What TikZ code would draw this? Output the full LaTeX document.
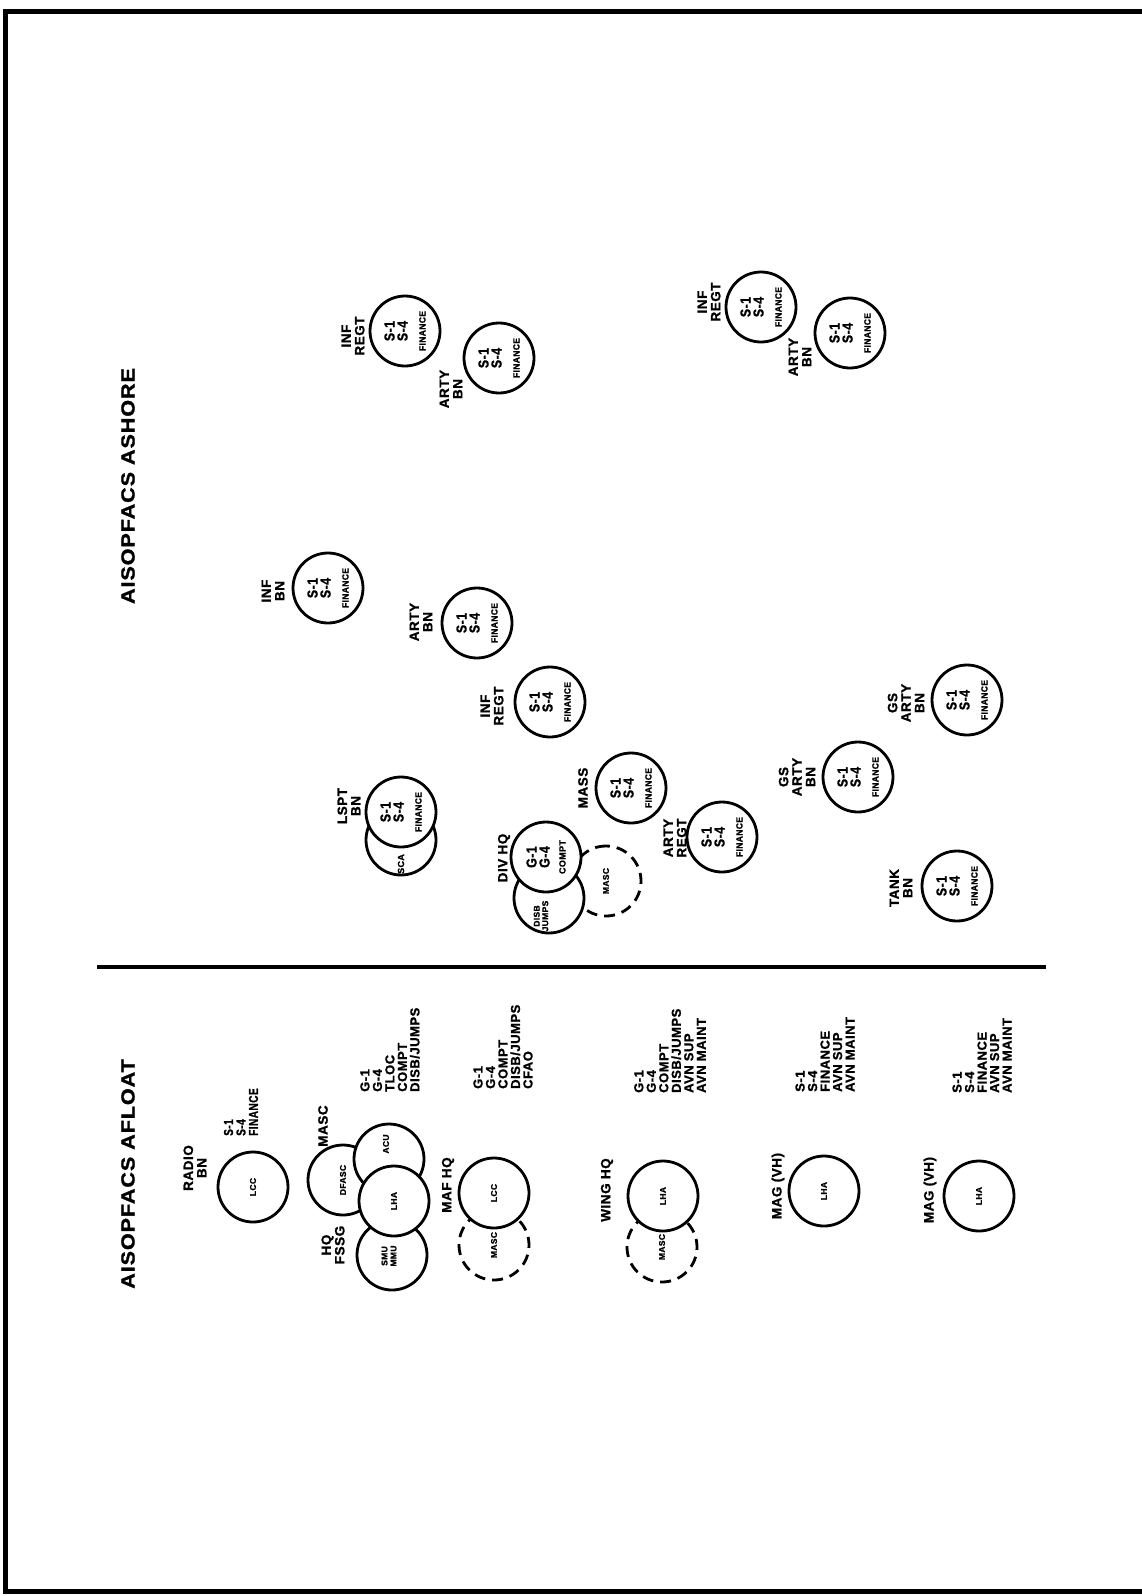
\documentclass[tikz,border=0pt]{standalone}
\usepackage{fontspec}
\setmainfont{Liberation Sans}[BoldFeatures={FakeBold=1.2}, LetterSpace=4]
\usepackage{graphicx}
\newcommand\ttlfont{\fontsize{19}{22}\selectfont\bfseries}
\newcommand\lblfont{\fontsize{13.5}{13.5}\selectfont\bfseries}
\newcommand\lstfont{\fontsize{13}{12.5}\selectfont\bfseries}
\newcommand\cfont{\fontsize{14.5}{13}\selectfont\bfseries}
\newcommand\ffont{\fontsize{9}{10}\selectfont\bfseries}
\newcommand\smfont{\fontsize{8.5}{9}\selectfont\bfseries}
% narrow set for short lists
\newcommand\cnd[1]{\scalebox{0.78}[1]{#1}}
% S-1 / S-4 / FINANCE block inside a unit circle
\newcommand\ssfin{\scalebox{0.85}[1]{S-1}\\\scalebox{0.85}[1]{S-4}\\[5pt]{\ffont\scalebox{0.95}[1]{FINANCE}}}
\tikzset{
  ring/.style={circle, draw, line width=2.8pt, fill=white, minimum size=70pt,
    inner sep=0pt, rotate=90, align=center, font=\cfont},
  ringsm/.style={ring, font=\smfont},
  dring/.style={circle, draw, line width=2.8pt, dash pattern=on 11pt off 7pt,
    minimum size=70pt, inner sep=0pt, rotate=90, font=\smfont},
  lbl/.style={rotate=90, align=center, font=\lblfont, inner sep=0pt},
  lst/.style={rotate=90, align=left, font=\lstfont, inner sep=0pt, anchor=west},
  ttl/.style={rotate=90, font=\ttlfont, inner sep=0pt},
  txt/.style={rotate=90, align=center, font=\smfont, inner sep=0pt},
}
\begin{document}
\begin{tikzpicture}[x=1pt,y=-1pt]
\useasboundingbox (0,0) rectangle (1142,1596);

% outer frame (open on the right) and the divider
\coordinate (fa) at (1142,11);
\coordinate (fb) at (5,11);
\coordinate (fc) at (5,1591);
\coordinate (fd) at (1142,1591);
\draw[line width=5pt, line join=miter] (fa) -- (fb) -- (fc) -- (fd);
\coordinate (da) at (97,967);
\coordinate (db) at (1046,967);
\draw[line width=4.5pt] (da) -- (db);

% section titles
\node[ttl] (ashore) at (128,486) {\scalebox{1.14}[1]{AISOPFACS ASHORE}};
\node[ttl] (afloat) at (128,1174) {\scalebox{1.14}[1]{AISOPFACS AFLOAT}};

% ---------------- ashore units ----------------
\node[ring] (ir1) at (405,331) {\ssfin};
\node[lbl] (ir1l) at (353,336) {INF\\REGT};
\node[ring] (ab1) at (499,358) {\ssfin};
\node[lbl] (ab1l) at (451,389) {ARTY\\BN};

\node[ring] (ir2) at (761,307) {\ssfin};
\node[lbl] (ir2l) at (709,302) {INF\\REGT};
\node[ring] (ab2) at (850,333) {\ssfin};
\node[lbl] (ab2l) at (800,357) {ARTY\\BN};

\node[ring] (ib) at (328,588) {\ssfin};
\node[lbl] (ibl) at (273,591) {INF\\BN};
\node[ring] (ab3) at (477,623) {\ssfin};
\node[lbl] (ab3l) at (421,622) {ARTY\\BN};
\node[ring] (ir3) at (550,702) {\ssfin};
\node[lbl] (ir3l) at (492,706) {INF\\REGT};
\node[ring] (mass) at (631,788) {\ssfin};
\node[lbl] (massl) at (583,788) {MASS};

% LSPT BN with SCA
\node[ring] (sca) at (401,840) {};
\node[txt, font=\fontsize{9}{9}\selectfont\bfseries] (scat) at (401,864) {SCA};
\node[ring] (lspt) at (401,812) {\ssfin};
\node[lbl] (lsptl) at (349,806) {LSPT\\BN};

% DIV HQ with DISB and MASC
\node[dring] (dmasc) at (606,881) {MASC};
\node[ring] (disb) at (549,898) {};
\node[txt, font=\fontsize{8.5}{8.5}\selectfont\bfseries] (disbt) at (541,916) {DISB\\JUMPS};
\node[ring] (divg) at (546,857) {\scalebox{0.85}[1]{G-1}\\\scalebox{0.85}[1]{G-4}\\[3pt]{\ffont COMPT}};
\node[lbl] (divl) at (504,858) {DIV HQ};

\node[ring] (areg) at (722,837) {\ssfin};
\node[lbl] (aregl) at (675,838) {ARTY\\REGT};
\node[ring] (gs1) at (858,777) {\ssfin};
\node[lbl] (gs1l) at (797,777) {GS\\ARTY\\BN};
\node[ring] (gs2) at (967,700) {\ssfin};
\node[lbl] (gs2l) at (906,703) {GS\\ARTY\\BN};
\node[ring] (tank) at (957,886) {\ssfin};
\node[lbl] (tankl) at (901,888) {TANK\\BN};

% ---------------- afloat units ----------------
\node[lbl] (radl) at (195,1168) {RADIO\\BN};
\node[ringsm] (radc) at (253,1187) {LCC};
\node[lst] (radt) at (241,1136) {\cnd{S-1}\\\cnd{S-4}\\\cnd{FINANCE}};

\node[ringsm] (dfasc) at (343,1180) {DFASC};
\node[ringsm] (acu) at (389,1159) {};
\node[txt] (acut) at (386,1144) {ACU};
\node[ringsm] (smu) at (392,1255) {};
\node[txt] (smut) at (389,1256) {SMU\\MMU};
\node[ringsm] (lha1) at (394,1201) {LHA};
\node[lbl] (mascl) at (323,1126) {MASC};
\node[lbl] (fssgl) at (333,1245) {HQ\\FSSG};
\node[lst] (fssgt) at (390,1092) {G-1\\G-4\\TLOC\\COMPT\\DISB/JUMPS};

\node[dring] (mafm) at (494,1245) {MASC};
\node[ringsm] (mafc) at (494,1193) {LCC};
\node[lbl] (mafl) at (448,1185) {MAF HQ};
\node[lst] (maft) at (503,1089) {G-1\\G-4\\COMPT\\DISB/JUMPS\\CFAO};

\node[dring] (wingm) at (662,1247) {MASC};
\node[ringsm] (wingc) at (663,1196) {LHA};
\node[lbl] (wingl) at (607,1190) {WING HQ};
\node[lst] (wingt) at (670,1093) {G-1\\G-4\\COMPT\\DISB/JUMPS\\AVN SUP\\AVN MAINT};

\node[ringsm] (mag1) at (824,1191) {LHA};
\node[lbl] (mag1l) at (778,1186) {MAG (VH)};
\node[lst] (mag1t) at (825,1092) {S-1\\S-4\\FINANCE\\AVN SUP\\AVN MAINT};

\node[ringsm] (mag2) at (979,1196) {LHA};
\node[lbl] (mag2l) at (930,1190) {MAG (VH)};
\node[lst] (mag2t) at (982,1093) {S-1\\S-4\\FINANCE\\AVN SUP\\AVN MAINT};
\end{tikzpicture}
\end{document}
